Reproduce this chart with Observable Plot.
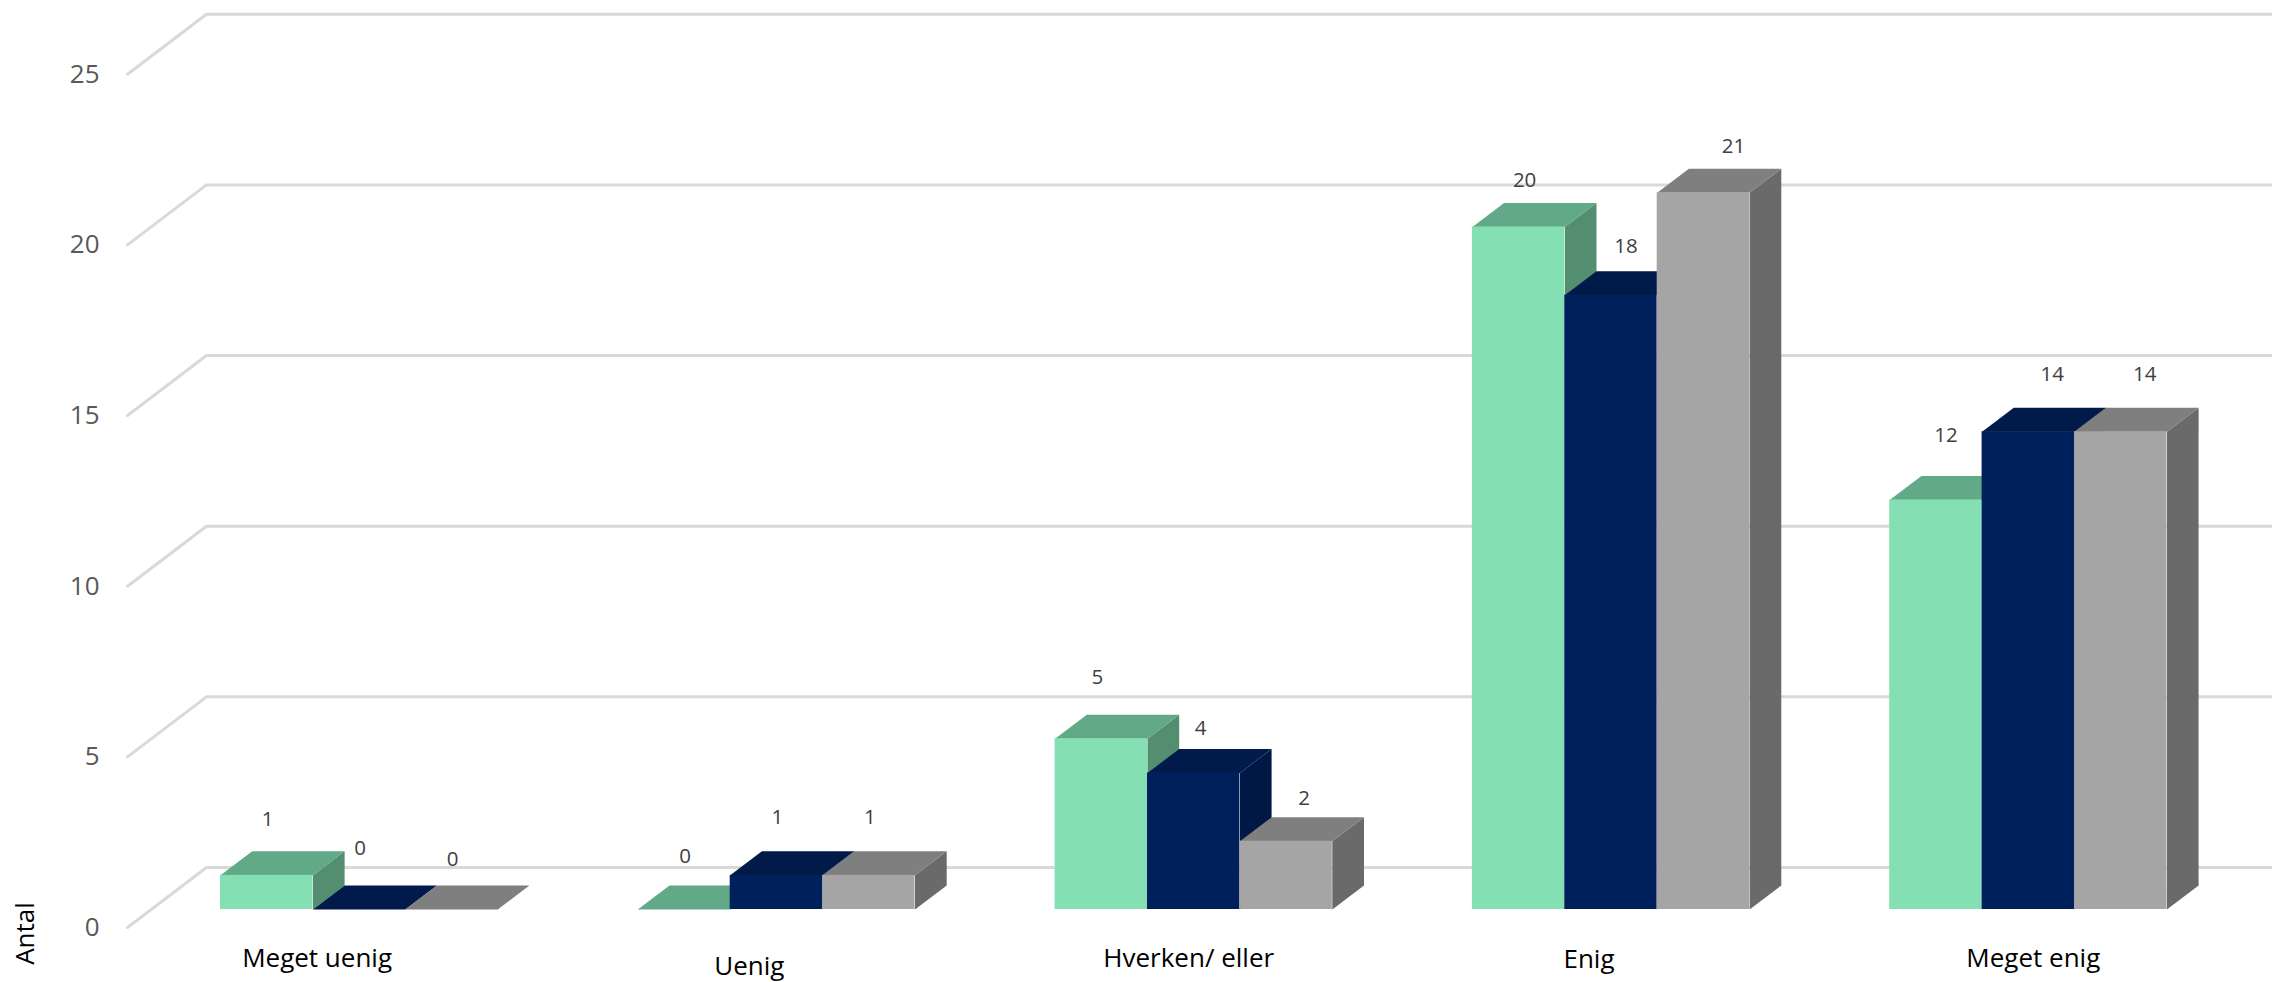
<!DOCTYPE html>
<html lang="da">
<head>
<meta charset="utf-8">
<title>Antal svar fordelt på svarkategori</title>
<script src="https://cdn.jsdelivr.net/npm/d3@7"></script>
<script src="https://cdn.jsdelivr.net/npm/@observablehq/plot@0.6"></script>
<style>
  html, body { margin: 0; padding: 0; background: #fff; overflow: hidden; }
  svg { display: block; }
</style>
</head>
<body>
<div id="chart"></div>
<script>
// Survey answers per category, one list per respondent group
const categories = ["Meget uenig", "Uenig", "Hverken/ eller", "Enig", "Meget enig"];
const seriesA = [1, 0, 5, 20, 12];
const seriesB = [0, 1, 4, 18, 14];
const seriesC = [0, 1, 2, 21, 14];
const yTicks = [0, 5, 10, 15, 20, 25];

// Face colours of each 3D column: front, top, side
const palette = [
  {front: "#84E0B3", top: "#62A987", side: "#548E71"},
  {front: "#00205C", top: "#001A4A", side: "#001845"},
  {front: "#A5A5A5", top: "#7F7F7F", side: "#6A6A6A"}
];

// Scale of the drawing: pixels per category step and per unit of value
const W = 2272, H = 982;
const stepPx = 417.3, unitPx = 34.13, originX = 220, originY = 909;
const barW = 92.4 / stepPx;

// Oblique depth of a column, and of the floor, in data units
const depthX = 31.7 / stepPx, depthY = 24 / unitPx;
const wallX = -14 / stepPx, wallY = 42 / unitPx;
const edgeX = -93 / stepPx, edgeY = -18 / unitPx;

// Hand-placed label offsets in pixels, [dx, dy] from a column's front top centre
const labelOffsets = [
  [[1, -56], [1, -61], [1, -50]],
  [[1, -53], [1, -58], [1, -58]],
  [[-4, -61], [7, -45], [18, -43]],
  [[6, -46], [15, -49], [30, -46]],
  [[10, -65], [24, -57], [24, -57]]
];
const categoryOffsets = [[-42, 49], [-27, 57], [-5, 49], [-22, 50], [5, 49]];

const series = [seriesA, seriesB, seriesC];

const columns = series.map((values, j) => values.map((v, i) => ({
  i, j, v, x1: i + j * barW, x2: i + (j + 1) * barW
})));

// Closed outlines for the two visible slanted faces of a column
const sideFace = (b) => [
  {id: b.i, x: b.x2, y: 0},
  {id: b.i, x: b.x2 + depthX, y: depthY},
  {id: b.i, x: b.x2 + depthX, y: b.v + depthY},
  {id: b.i, x: b.x2, y: b.v}
];
const topFace = (b) => [
  {id: b.i, x: b.x1, y: b.v},
  {id: b.i, x: b.x1 + depthX, y: b.v + depthY},
  {id: b.i, x: b.x2 + depthX, y: b.v + depthY},
  {id: b.i, x: b.x2, y: b.v}
];

// Gridlines run along the floor edge, then across the back wall
const gridPoints = yTicks.flatMap((t) => [
  {t, x: edgeX, y: t + edgeY},
  {t, x: wallX, y: t + wallY},
  {t, x: (W - originX) / stepPx, y: t + wallY}
]);

const valueLabels = columns.flat().map((b) => ({
  text: String(b.v),
  x: (b.x1 + b.x2) / 2 + labelOffsets[b.i][b.j][0] / stepPx,
  y: b.v - labelOffsets[b.i][b.j][1] / unitPx
}));

const categoryLabels = categories.map((c, i) => ({
  text: c,
  x: i + 1.5 * barW + categoryOffsets[i][0] / stepPx,
  y: -categoryOffsets[i][1] / unitPx
}));

const font = "'Open Sans', sans-serif";

const columnMarks = columns.flatMap((bars, j) => [
  Plot.line(bars.flatMap(sideFace), {x: "x", y: "y", z: "id", fill: palette[j].side, stroke: "none"}),
  Plot.line(bars.flatMap(topFace), {x: "x", y: "y", z: "id", fill: palette[j].top, stroke: "none"}),
  Plot.rect(bars, {x1: "x1", x2: "x2", y1: 0, y2: "v", fill: palette[j].front})
]);

const chart = Plot.plot({
  width: W,
  height: H,
  margin: 0,
  style: {background: "#fff", fontFamily: font},
  x: {axis: null, domain: [-originX / stepPx, (W - originX) / stepPx]},
  y: {axis: null, domain: [(originY - H) / unitPx, originY / unitPx]},
  marks: [
    Plot.line(gridPoints, {x: "x", y: "y", z: "t", stroke: "#D9D9D9", strokeWidth: 3}),
    ...columnMarks,
    Plot.text(yTicks, {
      x: () => (99 - originX) / stepPx,
      y: (t) => t + edgeY,
      text: (t) => String(t),
      textAnchor: "end",
      fontSize: 26,
      fill: "#595959"
    }),
    Plot.text(valueLabels, {x: "x", y: "y", text: "text", fontSize: 20.5, fill: "#404040"}),
    Plot.text(categoryLabels, {x: "x", y: "y", text: "text", fontSize: 26, fill: "#000"}),
    Plot.text(["Antal"], {
      x: () => (25 - originX) / stepPx,
      y: () => (originY - 933) / unitPx,
      text: (d) => d,
      rotate: -90,
      fontSize: 26,
      fill: "#000"
    })
  ]
});

document.getElementById("chart").append(chart);
</script>
</body>
</html>
